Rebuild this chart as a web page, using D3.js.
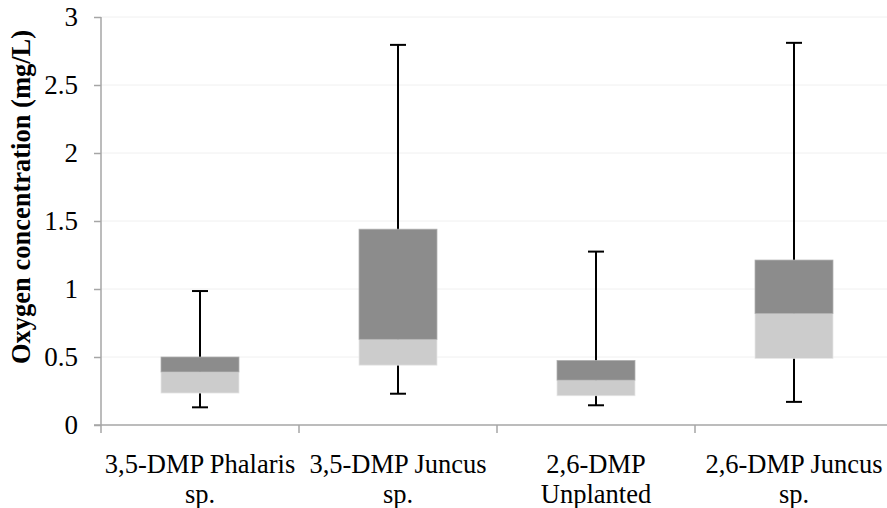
<!DOCTYPE html>
<html>
<head>
<meta charset="utf-8">
<script src="https://cdn.jsdelivr.net/npm/d3@7"></script>
<style>
  html, body { margin: 0; padding: 0; background: #fff; }
  svg { display: block; }
  svg text { font-family: "Liberation Serif", "Tinos", "Times New Roman", serif; fill: #000; }
</style>
</head>
<body>
<svg id="chart" width="887" height="508"></svg>
<script>
// Oxygen concentration per treatment (mg/L)
const categories = [
  ["3,5-DMP Phalaris", "sp."],
  ["3,5-DMP Juncus", "sp."],
  ["2,6-DMP", "Unplanted"],
  ["2,6-DMP Juncus", "sp."]
];
const minValues    = [0.13, 0.23, 0.145, 0.17];
const q1Values     = [0.235, 0.44, 0.215, 0.49];
const medianValues = [0.39, 0.63, 0.33, 0.82];
const q3Values     = [0.50, 1.44, 0.475, 1.213];
const maxValues    = [0.985, 2.795, 1.275, 2.81];
const yTicks = [0, 0.5, 1, 1.5, 2, 2.5, 3];

const svg = d3.select("#chart");
const plotLeft = 101, bandW = 198, plotTop = 17, plotBottom = 425;
const axisColor = "#a6a6a6";

const x = d3.scaleBand()
  .domain(d3.range(categories.length))
  .range([plotLeft, plotLeft + bandW * categories.length])
  .paddingInner(0).paddingOuter(0);
const y = d3.scaleLinear().domain([0, 3]).range([plotBottom, plotTop]);

// horizontal gridlines
svg.append("g").selectAll("line")
  .data(yTicks.filter(d => d > 0))
  .join("line")
  .attr("x1", plotLeft).attr("x2", 887)
  .attr("y1", d => y(d)).attr("y2", d => y(d))
  .attr("stroke", "#f0f0f0").attr("stroke-width", 1);

// y axis
const yAxis = svg.append("g")
  .attr("transform", `translate(${plotLeft},0)`)
  .call(d3.axisLeft(y).tickValues(yTicks).tickSize(7).tickPadding(16)
    .tickFormat(d => d3.format("")(d)));
yAxis.attr("font-family", null).attr("font-size", null);
yAxis.select(".domain").remove();
yAxis.append("line").attr("x1", 0).attr("x2", 0).attr("y1", plotTop).attr("y2", plotBottom + 8)
  .attr("stroke", axisColor).attr("stroke-width", 1.5);
yAxis.selectAll(".tick line").attr("stroke", axisColor).attr("stroke-width", 1.5);
yAxis.selectAll(".tick text").attr("font-size", 27).attr("dy", "0.33em");

// x axis line with category boundary ticks
svg.append("line").attr("x1", plotLeft - 7).attr("x2", 887)
  .attr("y1", plotBottom).attr("y2", plotBottom)
  .attr("stroke", axisColor).attr("stroke-width", 1.5);
svg.append("g").selectAll("line")
  .data(d3.range(1, categories.length + 1))
  .join("line")
  .attr("x1", i => plotLeft + bandW * i).attr("x2", i => plotLeft + bandW * i)
  .attr("y1", plotBottom).attr("y2", plotBottom + 8)
  .attr("stroke", axisColor).attr("stroke-width", 1.5);

// category labels (two lines)
const labels = svg.append("g").selectAll("text")
  .data(categories)
  .join("text")
  .attr("text-anchor", "middle")
  .attr("font-size", 26.5)
  .attr("x", (d, i) => x(i) + x.bandwidth() / 2)
  .attr("y", 473);
labels.selectAll("tspan")
  .data(d => d.map((t, j) => ({ t, j })))
  .join("tspan")
  .attr("x", function () { return d3.select(this.parentNode).attr("x"); })
  .attr("dy", d => d.j === 0 ? 0 : 29.5)
  .text(d => d.t);

// box plots
const boxW = 78, capW = 16;
const g = svg.append("g");
categories.forEach((c, i) => {
  const cx = x(i) + x.bandwidth() / 2;
  // whisker
  g.append("line").attr("x1", cx).attr("x2", cx)
    .attr("y1", y(maxValues[i])).attr("y2", y(minValues[i]))
    .attr("stroke", "#000").attr("stroke-width", 2);
  // lower box (Q1 to median)
  g.append("rect").attr("x", cx - boxW / 2).attr("width", boxW)
    .attr("y", y(medianValues[i])).attr("height", y(q1Values[i]) - y(medianValues[i]))
    .attr("fill", "#cccccc").attr("stroke", "#e6e6e6").attr("stroke-width", 0.75);
  // upper box (median to Q3)
  g.append("rect").attr("x", cx - boxW / 2).attr("width", boxW)
    .attr("y", y(q3Values[i])).attr("height", y(medianValues[i]) - y(q3Values[i]))
    .attr("fill", "#8c8c8c").attr("stroke", "#b0b0b0").attr("stroke-width", 0.75);
  // caps
  [maxValues[i], minValues[i]].forEach(v => {
    g.append("line").attr("x1", cx - capW / 2).attr("x2", cx + capW / 2)
      .attr("y1", y(v)).attr("y2", y(v))
      .attr("stroke", "#000").attr("stroke-width", 2);
  });
});

// y axis title
svg.append("text")
  .attr("transform", "translate(30,197) rotate(-90)")
  .attr("text-anchor", "middle")
  .attr("font-size", 26.5)
  .attr("font-weight", "bold")
  .text("Oxygen concentration (mg/L)");
</script>
</body>
</html>
